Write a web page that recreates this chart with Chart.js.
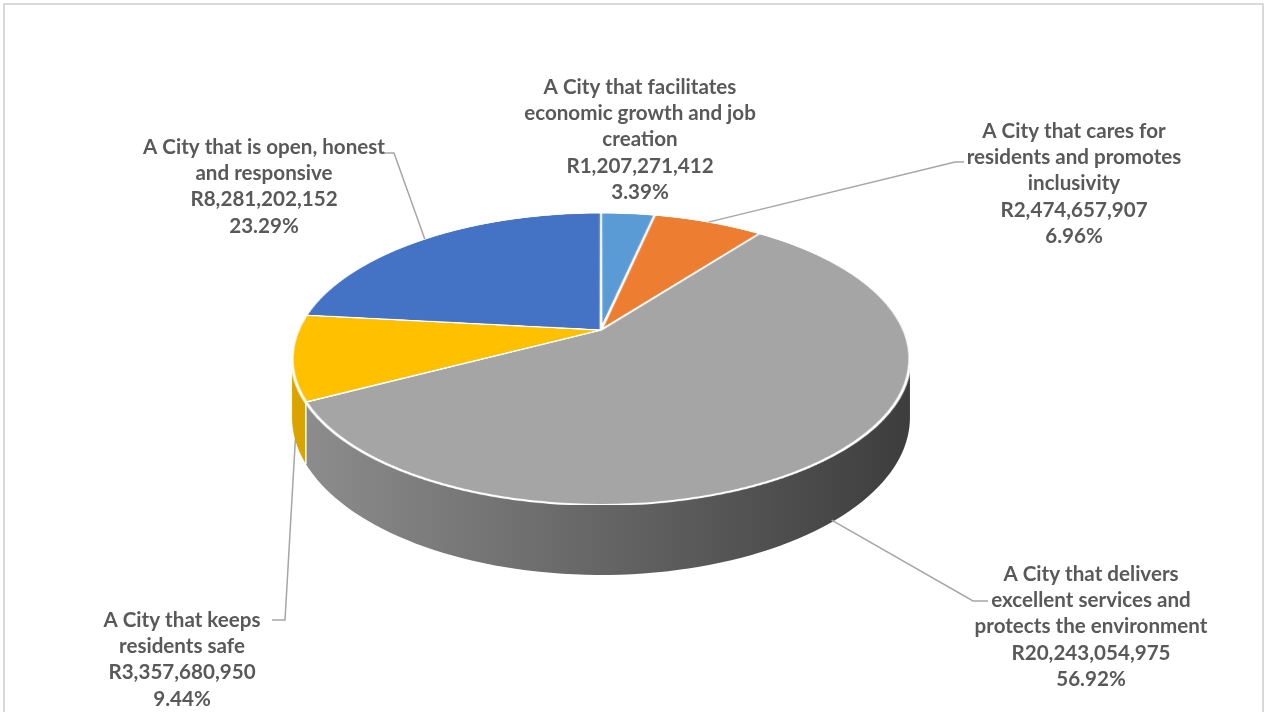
<!DOCTYPE html>
<html>
<head>
<meta charset="utf-8">
<title>Budget per strategic focus area</title>
<script src="https://cdn.jsdelivr.net/npm/chart.js@4.4.1/dist/chart.umd.min.js"></script>
<style>
  html, body { margin: 0; padding: 0; background: #fff; overflow: hidden; }
  #frame { position: absolute; left: 3px; top: 3px; width: 1261px; height: 740px; border: 2px solid #d9d9d9; box-sizing: border-box; }
  #budgetChart { position: absolute; left: 0; top: 0; }
</style>
</head>
<body>
<div id="frame"></div>
<canvas id="budgetChart" width="1267" height="712"></canvas>
<script>
'use strict';

// category names, split the way they wrap on the chart
const categories = [
    ['A City that facilitates', 'economic growth and job', 'creation'],
    ['A City that cares for', 'residents and promotes', 'inclusivity'],
    ['A City that delivers', 'excellent services and', 'protects the environment'],
    ['A City that keeps', 'residents safe'],
    ['A City that is open, honest', 'and responsive']
];
const budgets = [1207271412, 2474657907, 20243054975, 3357680950, 8281202152];
const sliceColours = ['#5b9bd5', '#ed7d31', '#a5a5a5', '#ffc000', '#4472c4'];

// label placement (centre of first text line) and leader line bends
const labelSpots = [
    { x: 640, y: 87, bend: null },
    { x: 1074, y: 131, bend: [[955, 162], [964, 162]] },
    { x: 1091, y: 574, bend: [[973, 601], [988, 601]] },
    { x: 182, y: 620, bend: [[285, 620], [272, 620]] },
    { x: 264, y: 147, bend: [[394, 153], [383, 153]] }
];

// perspective of the tilted pie: centre, vertical reach, foreshortening, half width, thickness
const eye = { x: 601, y: 330, a: 140.2, c: -0.1986, d: 302.8, h: 56.1 };
const lineGap = 26.4;
const textColour = '#595959';

function shade(hex, f)
{
    let n = parseInt(hex.slice(1), 16);
    let r = Math.round(((n >> 16) & 255) * f);
    let g = Math.round(((n >> 8) & 255) * f);
    let b = Math.round((n & 255) * f);
    return `rgb(${ r }, ${ g }, ${ b })`;
}

// canvas angle on the flat pie -> screen point on the tilted one (drop 0 = top, 1 = base)
function project(theta, drop)
{
    const u = Math.cos(theta), v = Math.sin(theta);
    const den = 1 + eye.c * v;
    return [eye.x + eye.d * u / den, eye.y + (eye.a * v + drop * eye.h) / den];
}

function depthAt(y)
{
    const dy = y - eye.y;
    return dy / (eye.a - eye.c * dy);
}

const edgeAngle = Math.asin(-eye.c);   // where the side wall turns out of sight

const tiltPlugin = {
    id: 'tilt3d',
    afterDatasetsDraw(chart)
    {
        const ctx = chart.ctx;
        const canvas = chart.canvas;
        const arcs = chart.getDatasetMeta(0).data;
        const cx = arcs[0].x, cy = arcs[0].y, R = arcs[0].outerRadius;

        // take the flat pie that Chart.js drew and clear it away
        const flat = document.createElement('canvas');
        flat.width = canvas.width;
        flat.height = canvas.height;
        flat.getContext('2d').drawImage(canvas, 0, 0);
        ctx.save();
        ctx.setTransform(1, 0, 0, 1, 0, 0);
        ctx.clearRect(0, 0, canvas.width, canvas.height);

        // side walls of the slices facing us
        const left = project(Math.PI - edgeAngle, 0)[0];
        const right = project(edgeAngle, 0)[0];
        arcs.forEach((arc, i) =>
        {
            const a = Math.max(arc.startAngle, edgeAngle);
            const b = Math.min(arc.endAngle, Math.PI - edgeAngle);
            if (b <= a) return;
            const steps = 80;
            ctx.beginPath();
            for (let k = 0; k <= steps; k++)
            {
                const p = project(a + (b - a) * k / steps, 0);
                if (k === 0) ctx.moveTo(p[0], p[1]); else ctx.lineTo(p[0], p[1]);
            }
            for (let k = steps; k >= 0; k--)
            {
                const p = project(a + (b - a) * k / steps, 1);
                ctx.lineTo(p[0], p[1]);
            }
            ctx.closePath();
            const grad = ctx.createLinearGradient(left, 0, right, 0);
            grad.addColorStop(0, shade(sliceColours[i], 0.86));
            grad.addColorStop(1, shade(sliceColours[i], 0.37));
            ctx.fillStyle = grad;
            ctx.fill();
        });

        // white seams where front slices meet
        ctx.strokeStyle = '#ffffff';
        ctx.lineWidth = 1.5;
        arcs.forEach(arc =>
        {
            const t = arc.startAngle;
            if (t > edgeAngle && t < Math.PI - edgeAngle)
            {
                const p = project(t, 0), q = project(t, 1);
                ctx.beginPath();
                ctx.moveTo(p[0], p[1]);
                ctx.lineTo(q[0], q[1]);
                ctx.stroke();
            }
        });

        // top face: lay the flat pie down row by row in perspective
        ctx.imageSmoothingEnabled = true;
        ctx.imageSmoothingQuality = 'high';
        const yTop = Math.floor(eye.y + eye.a * -1 / (1 - eye.c));
        const yBot = Math.ceil(eye.y + eye.a / (1 + eye.c));
        for (let y = yTop; y <= yBot; y++)
        {
            const v0 = Math.max(-1, depthAt(y));
            const v1 = Math.min(1, depthAt(y + 1));
            if (v1 <= v0) continue;
            const vm = (v0 + v1) / 2;
            const s = eye.d / ((1 + eye.c * vm) * R);
            ctx.drawImage(flat, cx - R - 1, cy + v0 * R, 2 * R + 2, (v1 - v0) * R,
                eye.x - (R + 1) * s, y, (2 * R + 2) * s, 1);
        }
        ctx.restore();
    },
    afterDraw(chart)
    {
        const ctx = chart.ctx;
        const arcs = chart.getDatasetMeta(0).data;
        const total = budgets.reduce((s, v) => s + v, 0);

        ctx.save();
        // fit the font to the width of the widest line in the original
        ctx.font = 'bold 20px Lato';
        let w = ctx.measureText('protects the environment').width;
        let size = 20 * 233 / w;
        ctx.font = `bold ${ size.toFixed(1) }px Lato`;

        arcs.forEach((arc, i) =>
        {
            const spot = labelSpots[i];
            if (spot.bend)
            {
                let mid = (arc.startAngle + arc.endAngle) / 2;
                let drop = 0;
                const lo = Math.max(arc.startAngle, edgeAngle);
                const hi = Math.min(arc.endAngle, Math.PI - edgeAngle);
                if (hi > lo)
                {
                    // slice shows a side wall: hang the line from it
                    if (mid < lo || mid > hi) mid = (lo + hi) / 2;
                    drop = 0.97;
                }
                const p = project(mid, drop);
                ctx.beginPath();
                ctx.moveTo(p[0], p[1]);
                spot.bend.forEach(q => ctx.lineTo(q[0], q[1]));
                ctx.strokeStyle = '#a6a6a6';
                ctx.lineWidth = 1.5;
                ctx.stroke();
            }
            const lines = categories[i].concat([
                'R' + budgets[i].toLocaleString('en-US'),
                (budgets[i] / total * 100).toFixed(2) + '%'
            ]);
            ctx.fillStyle = textColour;
            ctx.textAlign = 'center';
            ctx.textBaseline = 'middle';
            lines.forEach((t, j) => ctx.fillText(t, spot.x, spot.y + j * lineGap));
        });
        ctx.restore();
    }
};

const ctx = document.getElementById('budgetChart').getContext('2d');
const budgetChart = new Chart(ctx, {
    type: 'pie',
    data: {
        labels: categories.map(c => c.join(' ')),
        datasets: [{
            data: budgets,
            backgroundColor: sliceColours,
            borderColor: '#ffffff',
            borderWidth: 3,
            hoverOffset: 0,
            clip: false
        }]
    },
    options: {
        responsive: false,
        animation: false,
        events: [],
        layout: {
            padding: 30
        },
        plugins: {
            legend: { display: false },
            tooltip: { enabled: false }
        }
    },
    plugins: [tiltPlugin]
});
</script>
</body>
</html>
